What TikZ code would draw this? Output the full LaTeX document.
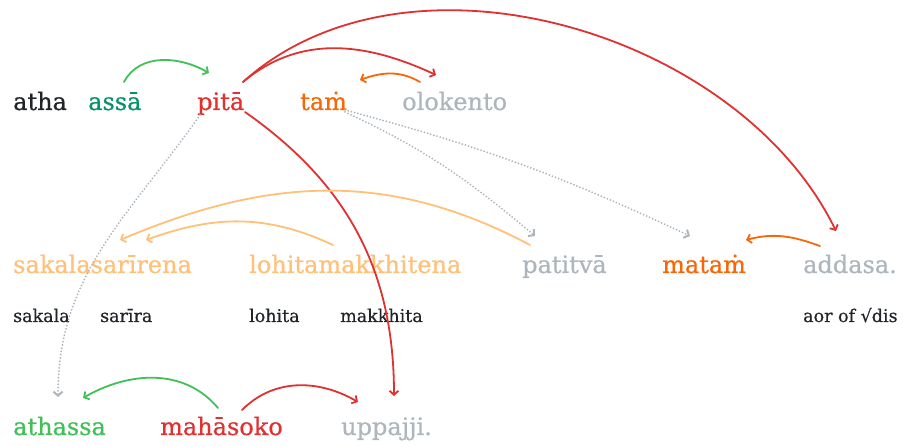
\documentclass[tikz,border=0pt]{standalone}
\usepackage{fontspec}
\setmainfont{DejaVu Serif}[FakeBold=0.6]
\usetikzlibrary{arrows.meta}
\definecolor{ink}{HTML}{212529}
\definecolor{teal}{HTML}{099268}
\definecolor{leaf}{HTML}{40C057}
\definecolor{rust}{HTML}{E03131}
\definecolor{tang}{HTML}{F76707}
\definecolor{peach}{HTML}{FFC078}
\definecolor{ash}{HTML}{ADB5BD}
\tikzset{
  word/.style={anchor=base west, inner sep=0pt, font=\fontsize{24}{28}\selectfont},
  gloss/.style={anchor=base west, inner sep=0pt, text=ink, font=\fontsize{17.5}{20}\selectfont},
  link/.style={->, line width=1.8pt},
  hint/.style={->, ash, line width=2pt, dash pattern=on 0pt off 3.3pt}
}
\begin{document}
\begin{tikzpicture}[x=1pt, y=1pt, line join=round, line cap=round, >={Straight Barb[length=4pt,width=9pt]}]
\useasboundingbox (0,0) rectangle (903,447);
% first line
\node[word, text=ink] (atha) at (13,337) {atha};
\node[word, text=teal] (assa) at (88,337) {assā};
\node[word, text=rust] (pita) at (197,337) {pitā};
\node[word, text=tang] (tam) at (300,337) {taṁ};
\node[word, text=ash] (olokento) at (402,337) {olokento};
% second line
\node[word, text=peach] (sakalasarira) at (13,174) {sakalasarīrena};
\node[word, text=peach] (lohitamakkhita) at (249,174) {lohitamakkhitena};
\node[word, text=ash] (patitva) at (522,174) {patitvā};
\node[word, text=tang] (matam) at (662,174) {mataṁ};
\node[word, text=ash] (addasa) at (803,174) {addasa.};
\node[gloss] (gsakala) at (13,125) {sakala};
\node[gloss] (gsarira) at (100,125) {sarīra};
\node[gloss] (glohita) at (249,125) {lohita};
\node[gloss] (gmakkhita) at (340,125) {makkhita};
\node[gloss] (gaddasa) at (803,125) {aor of √dis};
% third line
\node[word, text=leaf] (athassa) at (13,12) {athassa};
\node[word, text=rust] (mahasoko) at (160,12) {mahāsoko};
\node[word, text=ash] (uppajji) at (341,12) {uppajji.};

\draw[link, leaf] ([shift={(36,28)}]assa.base west) to[out=62, in=150] ([shift={(12,37)}]pita.base west);
\draw[link, rust] ([shift={(46,28)}]pita.base west) to[out=40, in=155] ([shift={(34,35)}]olokento.base west);
\draw[link, rust] ([shift={(46,28)}]pita.base west) to[out=42, in=116, looseness=0.93] ([shift={(33,42)}]addasa.base west);
\draw[link, tang] ([shift={(18,28)}]olokento.base west) to[out=150, in=20] ([shift={(60,30)}]tam.base west);
\draw[link, rust] ([shift={(48,-2)}]pita.base west) to[out=-35, in=90] ([shift={(53,39)}]uppajji.base west);
\draw[hint] ([shift={(3,-5)}]pita.base west) to[out=-125, in=90] ([shift={(45,38)}]athassa.base west);
\draw[hint] ([shift={(45,-2)}]tam.base west) to[out=-25, in=140] ([shift={(13,37)}]patitva.base west);
\draw[hint] ([shift={(45,0)}]tam.base west) to[out=-15, in=155] ([shift={(28,37)}]matam.base west);
\draw[link, peach] ([shift={(8,28)}]patitva.base west) to[out=152, in=23] ([shift={(107,33)}]sakalasarira.base west);
\draw[link, peach] ([shift={(84,28)}]lohitamakkhita.base west) to[out=155, in=20] ([shift={(133,33)}]sakalasarira.base west);
\draw[link, tang] ([shift={(17,27)}]addasa.base west) to[out=160, in=15] ([shift={(84,33)}]matam.base west);
\draw[link, leaf] ([shift={(58,27)}]mahasoko.base west) to[out=130, in=30] ([shift={(70,37)}]athassa.base west);
\draw[link, rust] ([shift={(82,25)}]mahasoko.base west) to[out=45, in=150] ([shift={(17,33)}]uppajji.base west);
\end{tikzpicture}
\end{document}
